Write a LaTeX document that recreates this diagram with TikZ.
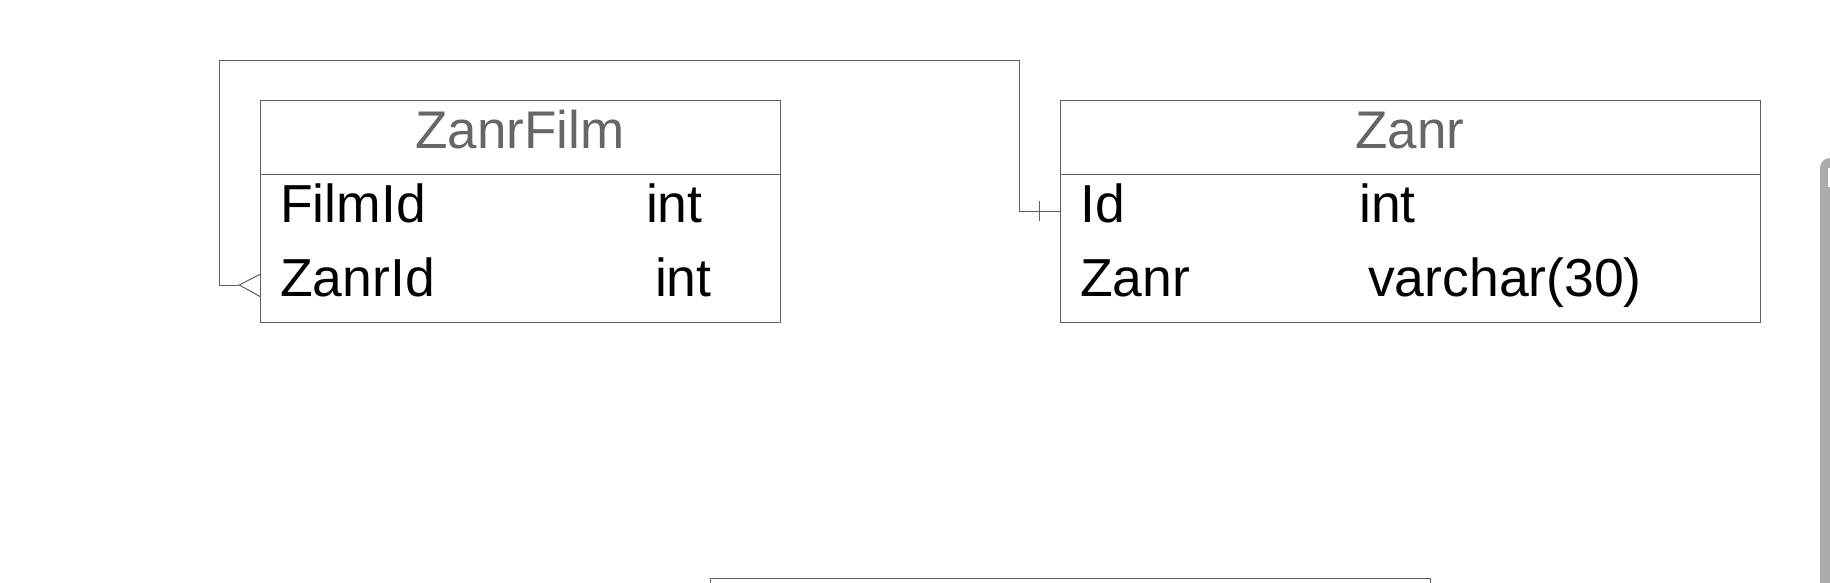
\documentclass[tikz,border=0pt]{standalone}
\usepackage{fontspec}
\setmainfont{Liberation Sans}

\definecolor{linegray}{HTML}{5F5F5F}
\definecolor{headgray}{HTML}{666666}
\definecolor{bargray}{HTML}{ABABAB}

\begin{document}
\begin{tikzpicture}[x=1pt, y=-1pt]
    \tikzset{tablebox/.style={draw=linegray, line width=1pt, inner sep=0pt, outer sep=0pt, anchor=north west},
             conn/.style={draw=linegray, line width=1pt},
             headtext/.style={text=headgray, font=\fontsize{53}{60}\selectfont, inner sep=0pt, anchor=base},
             fieldtext/.style={text=black, font=\fontsize{53.5}{60}\selectfont, inner sep=0pt, anchor=base west}} %% styles
    \clip (0,0) rectangle (1830,582);

    % tables
    \node[tablebox, minimum width=520, minimum height=221.7] (zanrfilm) at (260,100.3) {};
    \node[tablebox, minimum width=700, minimum height=221.7] (zanr) at (1060,100.3) {};
    \node[tablebox, minimum width=720.6, minimum height=100] (film) at (710,578.5) {};

    \draw[conn] (zanrfilm.west |- 0,174.3) -- (zanrfilm.east |- 0,174.3);
    \draw[conn] (zanr.west |- 0,174.3) -- (zanr.east |- 0,174.3);

    \node[headtext] (zanrfilm-head) at (520,148.3) {ZanrFilm};
    \node[headtext] (zanr-head) at (1410,148.3) {Zanr};

    \foreach \fname/\ftype/\y/\tx [count=\i] in {FilmId/int/222.7/645.8, ZanrId/int/296.7/654.8} {
            \node[fieldtext] (zanrfilm-name-\i) at (280,\y) {\fname};
            \node[fieldtext] (zanrfilm-type-\i) at (\tx,\y) {\ftype};
    }
    \foreach \fname/\ftype/\y/\tx [count=\i] in {Id/int/222.7/1359, Zanr/{varchar(30)}/296.7/1368} {
            \node[fieldtext] (zanr-name-\i) at (1080,\y) {\fname};
            \node[fieldtext] (zanr-type-\i) at (\tx,\y) {\ftype};
    }

    % relation ZanrFilm.ZanrId -> Zanr.Id
    \coordinate (fk) at (zanrfilm.west |- 0,285);
    \coordinate (foot) at (239.3,285);
    \coordinate (pk) at (zanr.west |- 0,211);
    \coordinate (bend) at (219,285);
    \coordinate (top) at (1019.3,60);
    \draw[conn] (foot) -- (bend) |- (top) |- (pk);
    \draw[conn] (fk |- 0,274.3) -- (foot) -- (fk |- 0,296.5);
    \draw[conn] (1039.3,201) -- (1039.3,221);

    % scroll bar
    \fill[bargray, rounded corners=10pt] (1820,158) rectangle (1850,620);
    \fill[white] (1828,168) rectangle (1840,187);
\end{tikzpicture}
\end{document}
